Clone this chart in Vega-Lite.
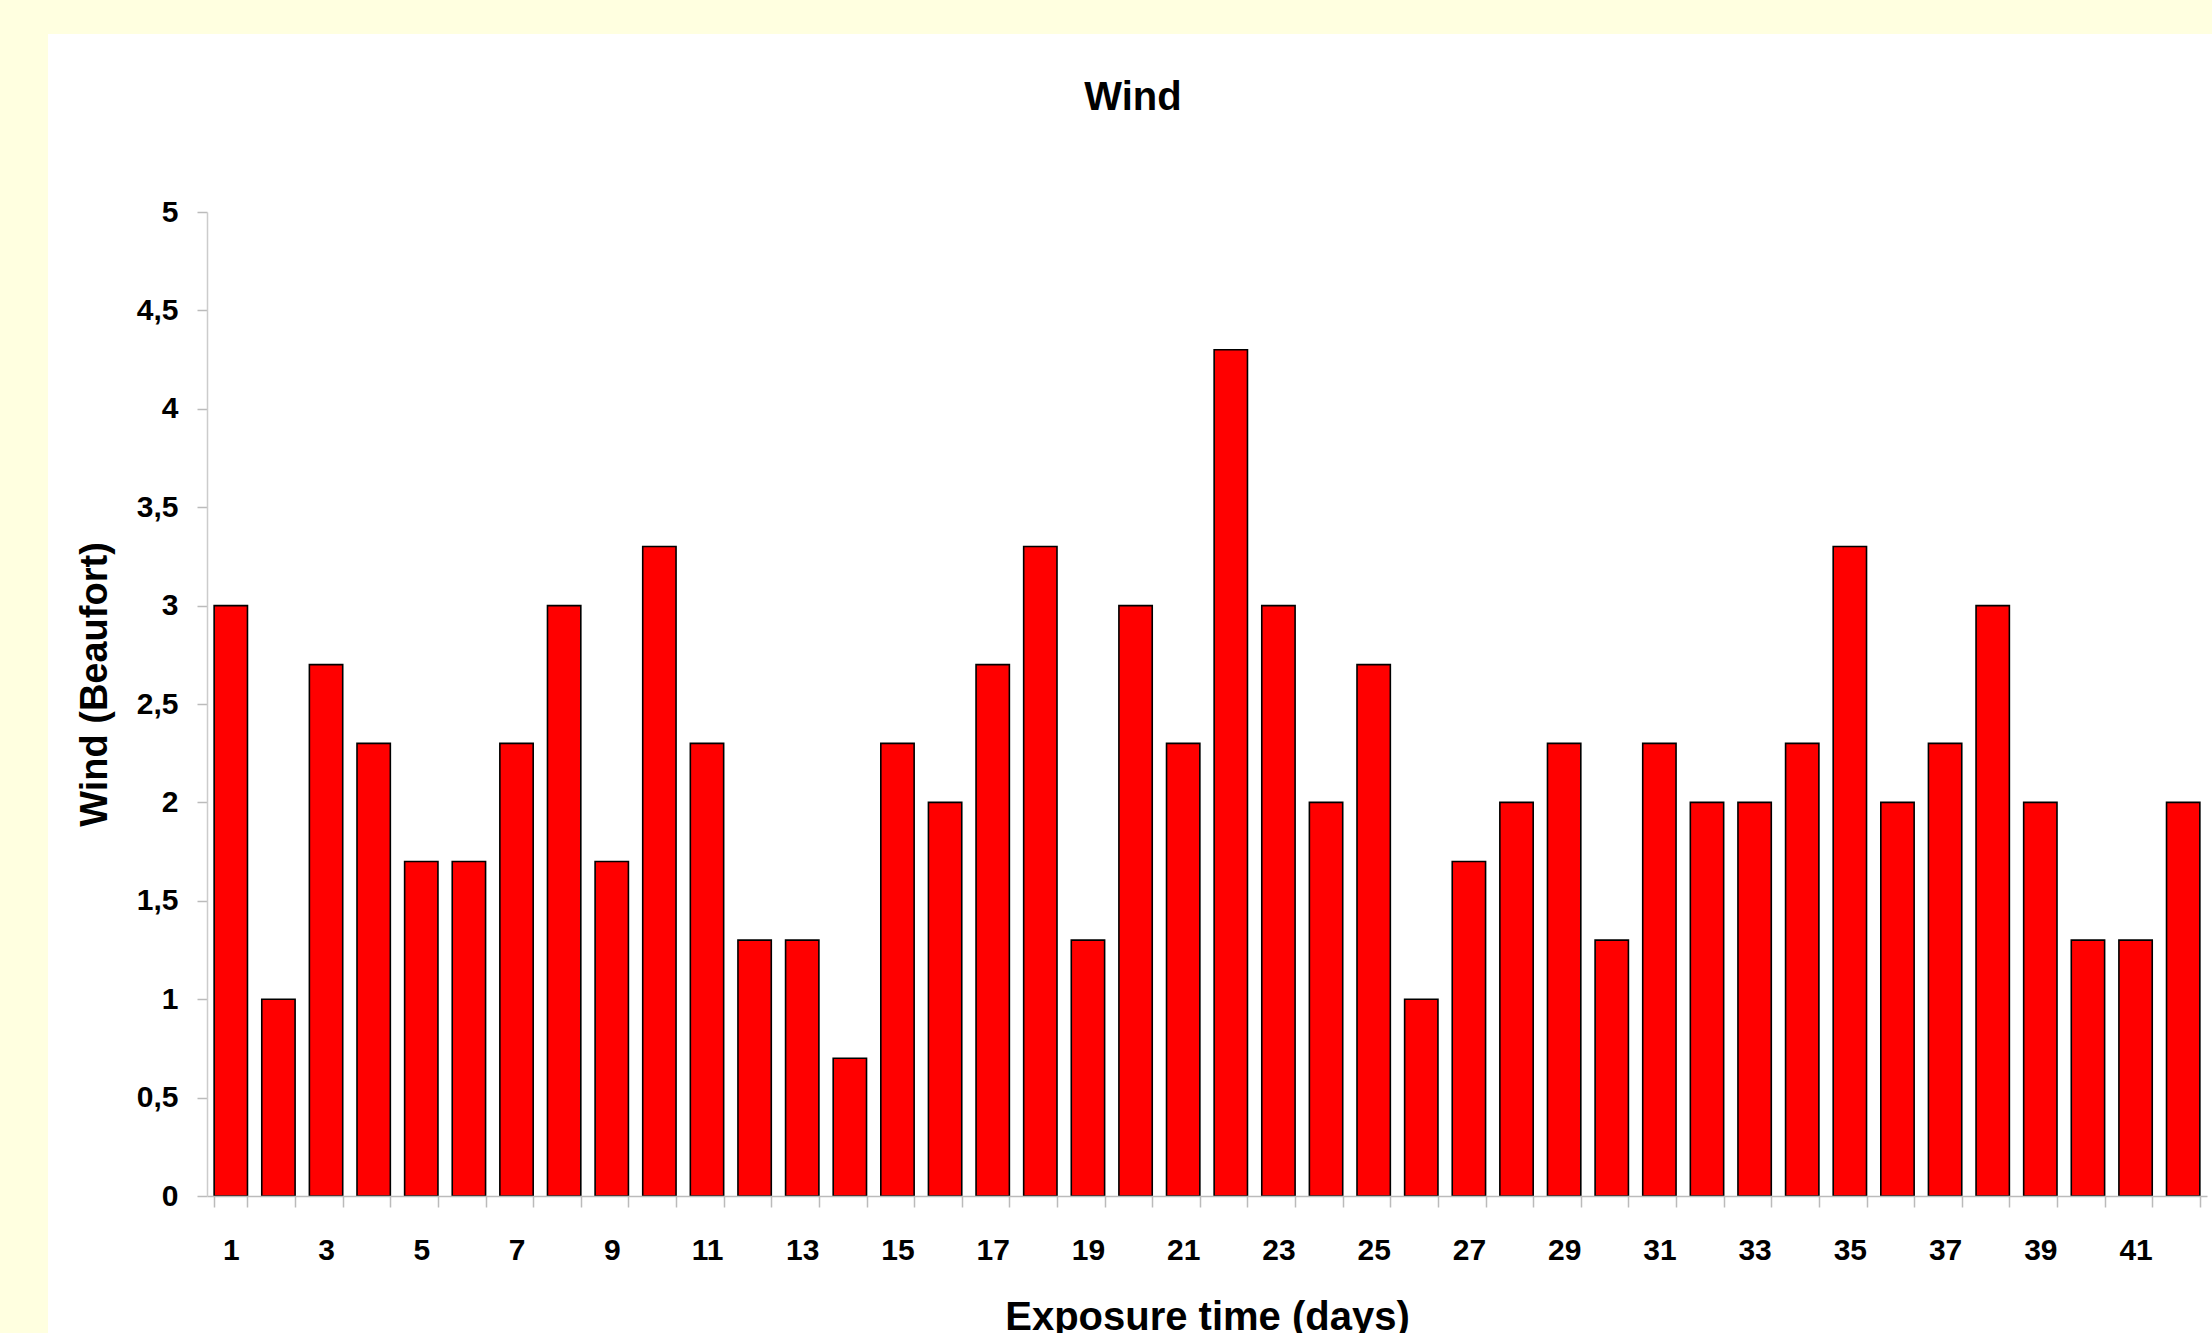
{
  "$schema": "https://vega.github.io/schema/vega-lite/v6.json",
  "autosize": {"type": "none"},
  "width": 2000,
  "height": 984,
  "padding": {"left": 207, "top": 212, "right": 5, "bottom": 137},
  "background": "#FFFFE0",
  "config": {
    "view": {"stroke": null},
    "font": "Liberation Sans",
    "axis": {"labelFont": "Liberation Sans", "titleFont": "Liberation Sans"}
  },
  "title": {
    "text": "Wind",
    "font": "Liberation Sans",
    "fontSize": 40,
    "fontWeight": "bold",
    "color": "#000000",
    "anchor": "middle",
    "dx": -74,
    "offset": -84,
    "zindex": 1
  },
  "datasets": {
    "panel": [{"left": 0, "right": 1, "bottom": 0, "top": 1}],
    "wind": [
      {"day": 1, "wind": 3.0}, {"day": 2, "wind": 1.0}, {"day": 3, "wind": 2.7},
      {"day": 4, "wind": 2.3}, {"day": 5, "wind": 1.7}, {"day": 6, "wind": 1.7},
      {"day": 7, "wind": 2.3}, {"day": 8, "wind": 3.0}, {"day": 9, "wind": 1.7},
      {"day": 10, "wind": 3.3}, {"day": 11, "wind": 2.3}, {"day": 12, "wind": 1.3},
      {"day": 13, "wind": 1.3}, {"day": 14, "wind": 0.7}, {"day": 15, "wind": 2.3},
      {"day": 16, "wind": 2.0}, {"day": 17, "wind": 2.7}, {"day": 18, "wind": 3.3},
      {"day": 19, "wind": 1.3}, {"day": 20, "wind": 3.0}, {"day": 21, "wind": 2.3},
      {"day": 22, "wind": 4.3}, {"day": 23, "wind": 3.0}, {"day": 24, "wind": 2.0},
      {"day": 25, "wind": 2.7}, {"day": 26, "wind": 1.0}, {"day": 27, "wind": 1.7},
      {"day": 28, "wind": 2.0}, {"day": 29, "wind": 2.3}, {"day": 30, "wind": 1.3},
      {"day": 31, "wind": 2.3}, {"day": 32, "wind": 2.0}, {"day": 33, "wind": 2.0},
      {"day": 34, "wind": 2.3}, {"day": 35, "wind": 3.3}, {"day": 36, "wind": 2.0},
      {"day": 37, "wind": 2.3}, {"day": 38, "wind": 3.0}, {"day": 39, "wind": 2.0},
      {"day": 40, "wind": 1.3}, {"day": 41, "wind": 1.3}, {"day": 42, "wind": 2.0}
    ]
  },
  "layer": [
    {
      "data": {"name": "panel"},
      "mark": {"type": "rect", "fill": "#FFFFFF", "stroke": null},
      "encoding": {
        "x": {"field": "left", "type": "quantitative", "axis": null, "scale": {"domain": [0.07347, 0.99769], "nice": false, "zero": false}},
        "x2": {"field": "right"},
        "y": {"field": "bottom", "type": "quantitative", "axis": null, "scale": {"domain": [0.10547, 0.86297], "nice": false, "zero": false}},
        "y2": {"field": "top"}
      }
    },
    {
      "data": {"name": "wind"},
      "mark": {"type": "bar", "color": "#FF0000", "stroke": "#000000", "strokeWidth": 1.6},
      "encoding": {
        "x": {
          "field": "day",
          "type": "ordinal",
          "scale": {"paddingInner": 0.3, "paddingOuter": 0.15},
          "axis": {
            "zindex": 1,
            "title": "Exposure time (days)",
            "titleFontSize": 40,
            "titleFontWeight": "bold",
            "titleColor": "#000000",
            "titlePadding": 32,
            "labelAngle": 0,
            "labelFontSize": 30,
            "labelFontWeight": "bold",
            "labelColor": "#000000",
            "labelPadding": 28,
            "labelExpr": "datum.value % 2 == 1 ? datum.label : ''",
            "tickBand": "extent",
            "tickSize": 11,
            "tickColor": "#BBBBBB",
            "tickWidth": 1.5,
            "domainColor": "#BBBBBB",
            "domainWidth": 1.5,
            "grid": false
          }
        },
        "y": {
          "field": "wind",
          "type": "quantitative",
          "scale": {"domain": [0, 5], "nice": false},
          "axis": {
            "zindex": 1,
            "title": "Wind (Beaufort)",
            "titleFontSize": 38,
            "titleFontWeight": "bold",
            "titleColor": "#000000",
            "titlePadding": 22,
            "titleY": 472,
            "values": [0, 0.5, 1, 1.5, 2, 2.5, 3, 3.5, 4, 4.5, 5],
            "labelExpr": "replace(format(datum.value, '~g'), '.', ',')",
            "labelFontSize": 30,
            "labelFontWeight": "bold",
            "labelColor": "#000000",
            "labelPadding": 19,
            "tickSize": 10,
            "tickColor": "#BBBBBB",
            "tickWidth": 1.5,
            "domainColor": "#CCCCCC",
            "domainWidth": 1.5,
            "grid": false
          }
        }
      }
    }
  ],
  "resolve": {"scale": {"x": "independent", "y": "independent"}}
}
